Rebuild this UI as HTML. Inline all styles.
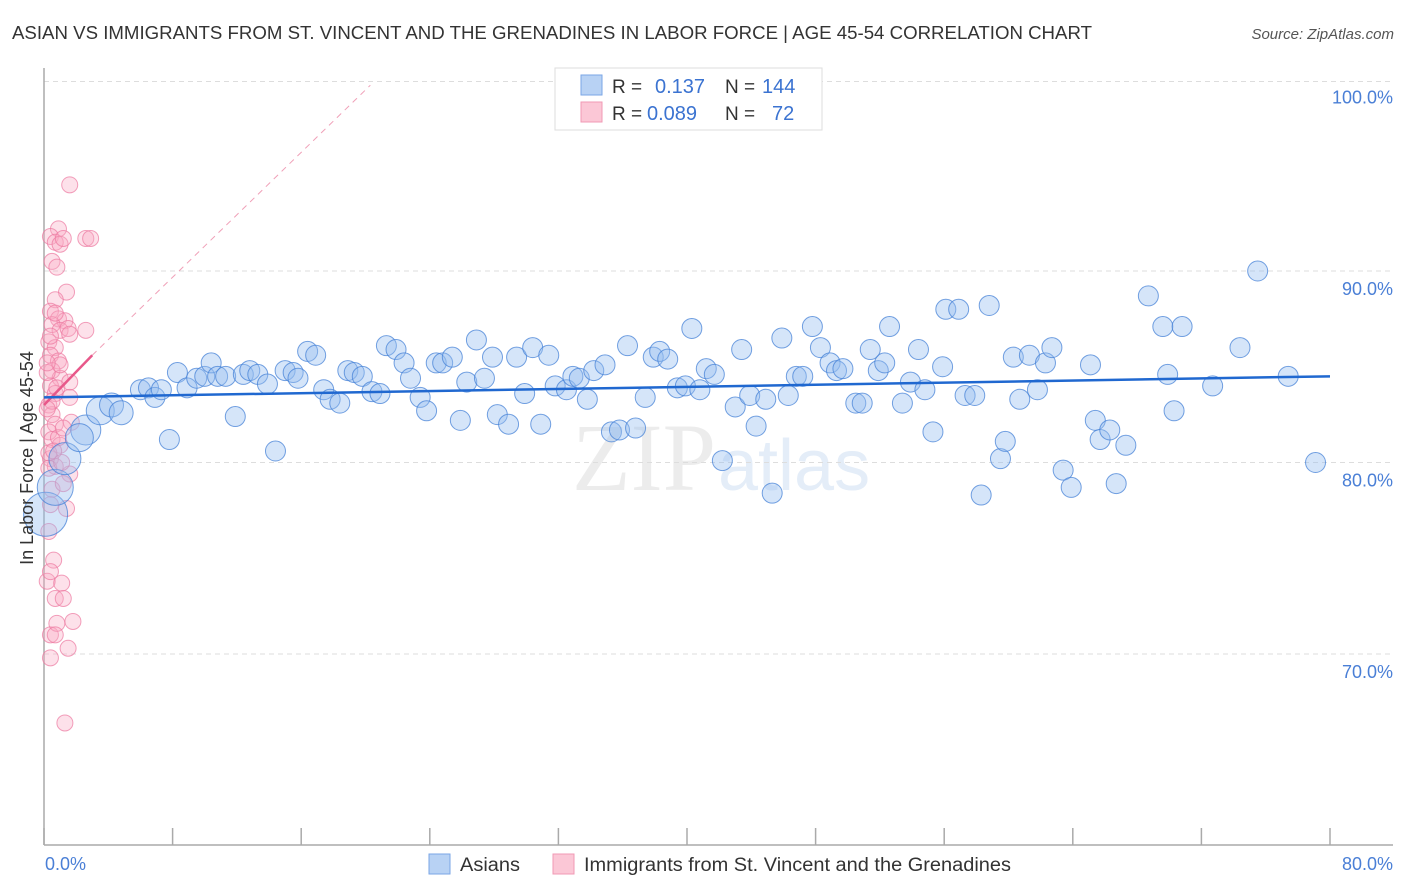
<!DOCTYPE html>
<html><head><meta charset="utf-8">
<style>
body{margin:0;background:#fff;font-family:"Liberation Sans",sans-serif;}
svg{display:block}
</style></head>
<body>
<svg id="chart" width="1406" height="892" xmlns="http://www.w3.org/2000/svg">
<text x="12" y="39" font-size="18" fill="#333" textLength="1080" lengthAdjust="spacingAndGlyphs">ASIAN VS IMMIGRANTS FROM ST. VINCENT AND THE GRENADINES IN LABOR FORCE | AGE 45-54 CORRELATION CHART</text>
<text x="1394" y="39" font-size="15" fill="#555" font-style="italic" text-anchor="end">Source: ZipAtlas.com</text>
<text x="716" y="490" font-size="96" fill="#ececec" font-family="Liberation Serif, serif" text-anchor="end">ZIP</text>
<text x="718" y="490" font-size="72" fill="#e4edf8">atlas</text>
<g id="grid"></g>
<g id="axes"></g>
<g id="pink"></g>
<g id="blue"></g>
<g id="trend"></g>
<text transform="translate(33,458) rotate(-90)" font-size="18" fill="#333" text-anchor="middle">In Labor Force | Age 45-54</text>
<text x="45" y="870" font-size="18" fill="#4a7fd6">0.0%</text>
<text x="1393" y="870" font-size="18" fill="#4a7fd6" text-anchor="end">80.0%</text>
<g>
<rect x="555" y="68" width="267" height="62" fill="#fff" stroke="#ddd"/>
<rect x="581" y="75" width="21" height="20" fill="#b8d2f4" stroke="#7aa6e6"/>
<rect x="581" y="102" width="21" height="20" fill="#fbc7d6" stroke="#f09ab4"/>
<text x="612" y="93" font-size="19" fill="#333">R =</text><text x="655" y="93" font-size="20" fill="#3b73d1">0.137</text>
<text x="725" y="93" font-size="19" fill="#333">N =</text><text x="762" y="93" font-size="20" fill="#3b73d1">144</text>
<text x="612" y="120" font-size="19" fill="#333">R =</text><text x="647" y="120" font-size="20" fill="#3b73d1">0.089</text>
<text x="725" y="120" font-size="19" fill="#333">N =</text><text x="772" y="120" font-size="20" fill="#3b73d1">72</text>
</g>
<g>
<rect x="429" y="854" width="21" height="20" fill="#b8d2f4" stroke="#7aa6e6"/>
<text x="460" y="871" font-size="19" fill="#333" textLength="60" lengthAdjust="spacingAndGlyphs">Asians</text>
<rect x="553" y="854" width="21" height="20" fill="#fbc7d6" stroke="#f09ab4"/>
<text x="584" y="871" font-size="19" fill="#333" textLength="427" lengthAdjust="spacingAndGlyphs">Immigrants from St. Vincent and the Grenadines</text>
</g>
</svg>
<script>
const NS="http://www.w3.org/2000/svg";
const yTicks=[100,90,80,70];
const yTickLabels=["100.0%","90.0%","80.0%","70.0%"];
const xTicks=[0,8,16,24,32,40,48,56,64,72,80];
const blueX=[0.1,0.7,1.3,2.6,2.2,3.5,4.2,4.8,6.0,6.5,6.9,7.3,7.8,8.3,8.9,9.5,10.0,10.4,10.8,11.3,11.9,12.4,12.8,13.3,13.9,14.4,15.0,15.5,15.8,16.4,16.9,17.4,17.8,18.4,18.9,19.3,19.8,20.4,20.9,21.3,21.9,22.4,22.8,23.4,23.8,24.4,24.8,25.4,25.9,26.3,26.9,27.4,27.9,28.2,28.9,29.4,29.9,30.4,30.9,31.4,31.8,32.5,32.9,33.3,33.8,34.2,34.9,35.3,35.8,36.3,36.8,37.4,37.9,38.3,38.8,39.4,39.9,40.3,40.8,41.2,41.7,42.2,43.0,43.4,43.9,44.3,44.9,45.3,45.9,46.3,46.8,47.2,47.8,48.3,48.9,49.3,49.7,50.5,50.9,51.4,51.9,52.3,52.6,53.4,53.9,54.4,54.8,55.3,55.9,56.1,56.9,57.3,57.9,58.3,58.8,59.5,59.8,60.3,60.7,61.3,61.8,62.3,62.7,63.4,63.9,65.1,65.4,65.7,66.3,66.7,67.3,68.7,69.6,69.9,70.3,70.8,72.7,74.4,75.5,77.4,79.1];
const blueY=[77.3,78.7,80.2,81.7,81.3,82.7,83.0,82.6,83.8,83.9,83.4,83.8,81.2,84.7,83.9,84.4,84.5,85.2,84.5,84.5,82.4,84.6,84.8,84.6,84.1,80.6,84.8,84.7,84.4,85.8,85.6,83.8,83.3,83.1,84.8,84.7,84.5,83.7,83.6,86.1,85.9,85.2,84.4,83.4,82.7,85.2,85.2,85.5,82.2,84.2,86.4,84.4,85.5,82.5,82.0,85.5,83.6,86.0,82.0,85.6,84.0,83.8,84.5,84.4,83.3,84.8,85.1,81.6,81.7,86.1,81.8,83.4,85.5,85.8,85.4,83.9,84.0,87.0,83.8,84.9,84.6,80.1,82.9,85.9,83.5,81.9,83.3,78.4,86.5,83.5,84.5,84.5,87.1,86.0,85.2,84.8,84.9,83.1,83.1,85.9,84.8,85.2,87.1,83.1,84.2,85.9,83.8,81.6,85.0,88.0,88.0,83.5,83.5,78.3,88.2,80.2,81.1,85.5,83.3,85.6,83.8,85.2,86.0,79.6,78.7,85.1,82.2,81.2,81.7,78.9,80.9,88.7,87.1,84.6,82.7,87.1,84.0,86.0,90.0,84.5,80.0];
const blueSize=[22,18,16,15,14,14,12,12];
const pinkX=[1.6,0.9,0.4,0.7,1.0,1.2,2.6,2.9,0.5,0.8,1.4,0.7,0.4,0.9,1.3,0.5,1.0,1.5,1.6,2.6,0.3,0.7,0.4,0.9,0.5,1.0,0.4,0.7,1.6,0.3,0.5,0.7,0.3,0.5,1.7,1.0,0.4,0.7,1.6,0.3,0.9,1.6,0.5,0.2,0.8,1.2,0.6,0.2,1.0,0.4,0.7,0.2,0.3,0.5,1.4,1.2,0.3,0.6,0.2,0.4,1.1,0.7,0.4,0.8,1.2,1.8,0.7,0.4,1.5,1.3,1.1,0.4];
const pinkY=[94.5,92.2,91.8,91.5,91.4,91.7,91.7,91.7,90.5,90.2,88.9,88.5,87.9,87.5,87.4,87.2,86.9,87.0,86.7,86.9,86.3,86.0,85.6,85.3,84.8,84.4,84.0,83.6,84.2,83.0,82.5,82.0,81.6,81.2,82.1,80.9,80.2,79.8,79.4,80.5,81.3,83.4,83.2,82.8,83.9,81.8,80.6,84.7,85.1,86.6,87.8,85.2,79.7,78.6,77.6,78.9,76.4,74.9,73.8,74.3,73.7,72.9,71.0,71.6,72.9,71.7,71.0,69.8,70.3,66.4,80.0,77.8];
const blueTrend=[83.4,84.5];
const pinkTrend=[83.0,85.6];
const pinkDash=[85.6,99.7];
const X0=44,X1=1330,YT=79.5,PX10=19.15;
const xs=v=>X0+v/80*(X1-X0);
const ys=v=>YT+(100-v)*PX10;
function mk(t,a,p){const e=document.createElementNS(NS,t);for(const k in a)e.setAttribute(k,a[k]);p.appendChild(e);return e;}
const grid=document.getElementById('grid');
yTicks.forEach((v,i)=>{
 const l=mk('line',{x1:X0,x2:1393,y1:ys(v)+(v===100?2:0),y2:ys(v)+(v===100?2:0),stroke:'#ddd','stroke-dasharray':'5,4'},grid);
 
 
 const t=mk('text',{x:1393,y:ys(v)+24,'font-size':18,fill:'#4a7fd6','text-anchor':'end'},grid);
 t.textContent=yTickLabels[i];
 
 
});
const ax=document.getElementById('axes');
const ya=mk('line',{x1:X0,x2:X0,y1:68,y2:845,stroke:'#aaa','stroke-width':1.5},ax);


const xa=mk('line',{x1:X0,x2:1393,y1:845,y2:845,stroke:'#aaa','stroke-width':1.5},ax);


xTicks.forEach(v=>{
 const t=mk('line',{x1:xs(v),x2:xs(v),y1:828,y2:845,stroke:'#aaa','stroke-width':1.5},ax);
 
 
});
const pg=document.getElementById('pink');
pinkX.forEach((v,i)=>{
 const c=mk('circle',{cx:xs(v),cy:ys(pinkY[i]),r:8,fill:'rgba(248,170,195,0.35)',stroke:'rgba(236,120,160,0.7)','stroke-width':1},pg);
 
 
});
const bg=document.getElementById('blue');
blueX.forEach((v,i)=>{
 const c=mk('circle',{cx:xs(v),cy:ys(blueY[i]),r:(blueSize[i]||10),fill:'rgba(150,190,240,0.4)',stroke:'rgba(70,130,215,0.75)','stroke-width':1},bg);
 
 
});
const tg=document.getElementById('trend');
const d=mk('line',{x1:xs(3),y1:ys(pinkDash[0]),x2:xs(20.3),y2:ys(pinkDash[1]),stroke:'#f0a0b8','stroke-dasharray':'6,5','stroke-width':1},tg);


const p=mk('line',{x1:xs(0),y1:ys(pinkTrend[0]),x2:xs(3),y2:ys(pinkTrend[1]),stroke:'#e8588a','stroke-width':2.5},tg);


const b=mk('line',{x1:xs(0),y1:ys(blueTrend[0]),x2:xs(80),y2:ys(blueTrend[1]),stroke:'#2068d0','stroke-width':2.5},tg);


</script>
</body></html>
